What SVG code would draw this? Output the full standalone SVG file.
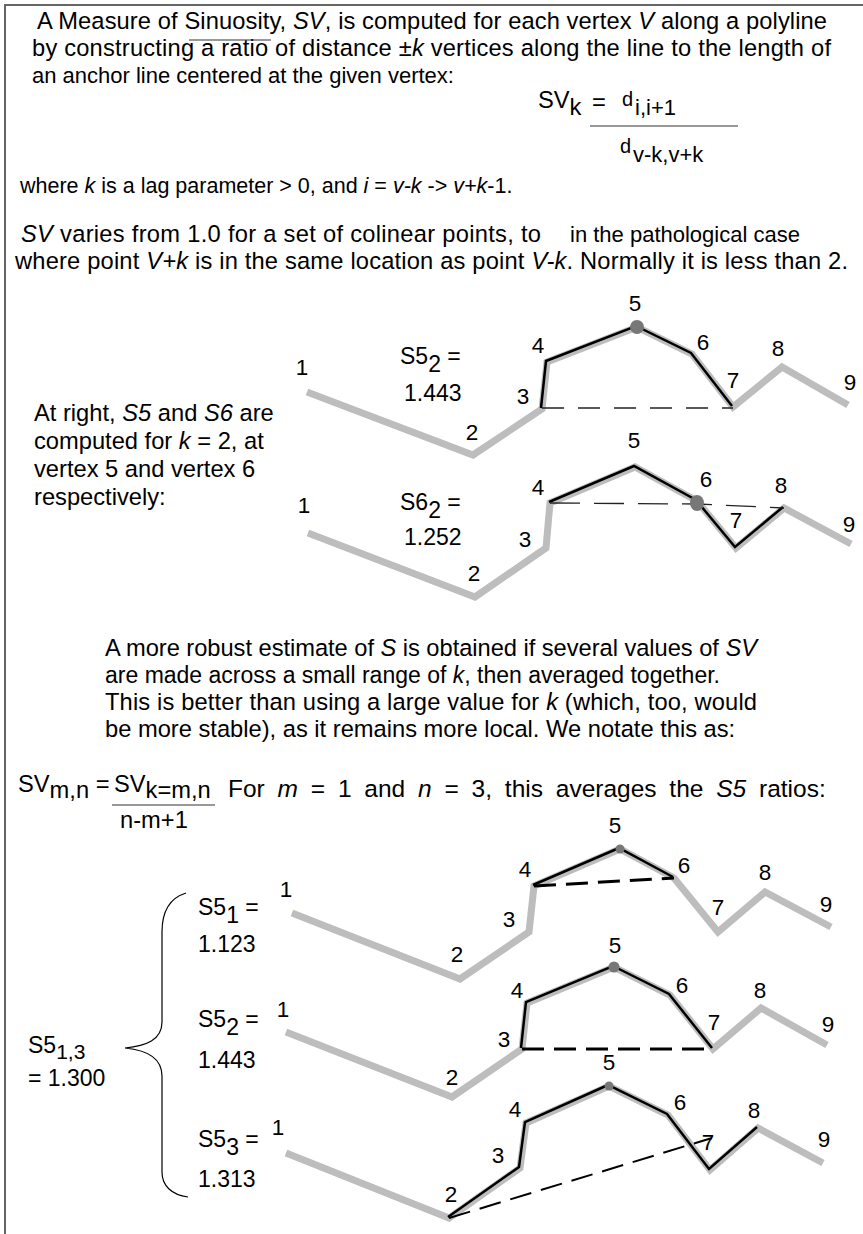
<svg xmlns="http://www.w3.org/2000/svg" width="863" height="1234" viewBox="0 0 863 1234">
<style>
text{font-family:"Liberation Sans",Arial,sans-serif;fill:#000}
.b{font-size:23.7px}
.l{font-size:22.5px;text-anchor:middle}
.s{font-size:23px}
.i{font-style:italic}
.g{fill:none;stroke:#bdbdbd;stroke-width:7;stroke-linejoin:miter;stroke-linecap:butt}
.k{fill:none;stroke:#000;stroke-width:2.5;stroke-linejoin:miter}
.d{fill:none;stroke:#222;stroke-width:1.3;stroke-dasharray:22 14}
.D{fill:none;stroke:#000;stroke-width:3;stroke-dasharray:22 10}
.dot{fill:#777}
</style>
<rect width="863" height="1234" fill="#fff"/>
<path id="frame" d="M5,1234 V5 H863" fill="none" stroke="#666" stroke-width="2"/>
<g id="intro">
<text class="b" x="37" y="29" textLength="790" lengthAdjust="spacing">A Measure of Sinuosity, <tspan class="i">SV</tspan>, is computed for each vertex <tspan class="i">V</tspan> along a polyline</text>
<text class="b" x="32" y="56" textLength="799" lengthAdjust="spacing">by constructing a ratio of distance ±<tspan class="i">k</tspan> vertices along the line to the length of</text>
<text x="32" y="83" style="font-size:22px">an anchor line centered at the given vertex:</text>
<line x1="189" y1="40" x2="271" y2="40" stroke="#333" stroke-width="1.2"/>
</g>
<g id="formula1">
<text class="b" x="538" y="108">SV<tspan dy="7">k</tspan></text>
<text class="b" x="592" y="110">=</text>
<text x="622" y="106" style="font-size:20px">d</text>
<text x="635" y="115" style="font-size:22px">i,i+1</text>
<line x1="590" y1="126" x2="738" y2="126" stroke="#333" stroke-width="1.2"/>
<text x="620" y="153" style="font-size:20px">d</text>
<text x="633" y="162" style="font-size:22px">v-k,v+k</text>
</g>
<g id="lag">
<text x="20" y="193" style="font-size:21.5px">where <tspan class="i">k</tspan> is a lag parameter &gt; 0, and  <tspan class="i">i</tspan> = <tspan class="i">v-k</tspan> -&gt; <tspan class="i">v+k</tspan>-1.</text>
</g>
<g id="range">
<text class="b" x="21" y="242" textLength="520" lengthAdjust="spacing"><tspan class="i">SV</tspan> varies from 1.0 for a set of colinear points, to</text>
<text x="570" y="242" style="font-size:22px">in the pathological case</text>
<text class="b" x="15" y="269" textLength="833" lengthAdjust="spacing">where point <tspan class="i">V+k</tspan> is in the same location as point <tspan class="i">V-k</tspan>. Normally it is less than 2.</text>
</g>
<g id="atright">
<text class="b" x="34" y="421">At right, <tspan class="i">S5</tspan> and <tspan class="i">S6</tspan> are</text>
<text class="b" x="34" y="449">computed for <tspan class="i">k</tspan> = 2, at</text>
<text class="b" x="34" y="477">vertex 5 and vertex 6</text>
<text class="b" x="34" y="505">respectively:</text>
</g>
<g id="robust">
<text class="b" x="105" y="656" textLength="652" lengthAdjust="spacing">A more robust estimate of <tspan class="i">S</tspan> is obtained if several values of <tspan class="i">SV</tspan></text>
<text x="105" y="683" style="font-size:23px">are made across a small range of <tspan class="i">k</tspan>, then averaged together.</text>
<text class="b" x="105" y="710" textLength="652" lengthAdjust="spacing">This is better than using a large value for <tspan class="i">k</tspan> (which, too, would</text>
<text class="b" x="105" y="737">be more stable), as it remains more local. We notate this as:</text>
</g>
<g id="formula2">
<text class="b" x="18" y="792">SV<tspan dy="6">m,n</tspan><tspan dy="-6"> =</tspan></text>
<text class="b" x="114" y="792">SV<tspan dy="6">k=m,n</tspan></text>
<text x="228" y="797" style="font-size:24.5px;word-spacing:6px">For <tspan class="i">m</tspan> = 1 and <tspan class="i">n</tspan> = 3, this averages the <tspan class="i">S5</tspan> ratios:</text>
<line x1="112" y1="805" x2="215" y2="805" stroke="#333" stroke-width="1.2"/>
<text class="b" x="120" y="828">n-m+1</text>
</g>
<g id="connectors">
<polyline class="g" points="307,392 473,455 542,409 547,362 637,327 692,354 733,407 782,367 848,405"/>
<polyline class="k" points="541,408 546,361 636,326 691,353 732,406"/>
<line class="d" x1="542" y1="408" x2="733" y2="408"/>
<polyline class="g" points="308,533 475,597 546,548 550,503 635,467 697,501 736,548 784,508 851,544"/>
<polyline class="k" points="549,502 634,466 696,500 735,547 783,507"/>
<polyline class="d" style="stroke-dasharray:30 14" points="550,503 697,504 784,508"/>
<polyline class="g" points="292,913 460,979 529,932 534,886 620,849 674,878 718,932 765,892 831,927"/>
<polyline class="k" points="533,885 619,848 673,877"/>
<line class="D" x1="534" y1="886" x2="674" y2="878"/>
<polyline class="g" points="286,1032 452,1097 522,1049 527,1003 614,967 670,995 713,1049 761,1008 827,1045"/>
<polyline class="k" points="521,1048 526,1002 613,966 669,994 712,1048"/>
<line class="D" x1="522" y1="1049" x2="713" y2="1049"/>
<polyline class="g" points="286,1153 449,1218 520,1168 526,1123 609,1086 668,1115 710,1170 758,1128 823,1163"/>
<polyline class="k" points="448,1217 519,1167 525,1122 608,1085 667,1114 709,1169 757,1127"/>
<line class="D" style="stroke-width:2" x1="449" y1="1218" x2="712" y2="1138"/>
<path d="M186,893 C170,898 162,912 162,932 L162,1022 C162,1040 146,1046 125,1048 C146,1050 162,1058 162,1076 L162,1172 C162,1186 172,1195 188,1197" fill="none" stroke="#000" stroke-width="1.2"/>
</g>
<g id="diagram1">
<circle class="dot" cx="637" cy="327" r="7"/>
<text class="l" x="302" y="375">1</text><text class="l" x="472" y="440">2</text><text class="l" x="523" y="404">3</text>
<text class="l" x="538" y="353">4</text><text class="l" x="635" y="311">5</text><text class="l" x="703" y="350">6</text>
<text class="l" x="733" y="388">7</text><text class="l" x="778" y="356">8</text><text class="l" x="850" y="390">9</text>
<text class="s" x="400" y="364">S5<tspan dy="8">2</tspan><tspan dy="-8"> =</tspan></text>
<text class="s" x="404" y="401">1.443</text>
</g>
<g id="diagram2">
<ellipse class="dot" cx="697" cy="503" rx="7" ry="8"/>
<text class="l" x="304" y="513">1</text><text class="l" x="474" y="581">2</text><text class="l" x="525" y="547">3</text>
<text class="l" x="538" y="495">4</text><text class="l" x="634" y="448">5</text><text class="l" x="706" y="487">6</text>
<text class="l" x="736" y="528">7</text><text class="l" x="781" y="493">8</text><text class="l" x="849" y="532">9</text>
<text class="s" x="400" y="510">S6<tspan dy="8">2</tspan><tspan dy="-8"> =</tspan></text>
<text class="s" x="404" y="545">1.252</text>
</g>
<g id="diagram3">
<circle class="dot" cx="620" cy="849" r="4.5"/>
<text class="l" x="286" y="897">1</text><text class="l" x="457" y="962">2</text><text class="l" x="509" y="927">3</text>
<text class="l" x="525" y="877">4</text><text class="l" x="615" y="833">5</text><text class="l" x="684" y="873">6</text>
<text class="l" x="718" y="915">7</text><text class="l" x="765" y="880">8</text><text class="l" x="826" y="912">9</text>
<text class="s" x="198" y="915">S5<tspan dy="8">1</tspan><tspan dy="-8"> =</tspan></text>
<text class="s" x="198" y="952">1.123</text>
</g>
<g id="diagram4">
<circle class="dot" cx="614" cy="967" r="5.5"/>
<text class="l" x="283" y="1017">1</text><text class="l" x="452" y="1085">2</text><text class="l" x="504" y="1047">3</text>
<text class="l" x="517" y="998">4</text><text class="l" x="615" y="953">5</text><text class="l" x="682" y="993">6</text>
<text class="l" x="714" y="1030">7</text><text class="l" x="760" y="998">8</text><text class="l" x="828" y="1032">9</text>
<text class="s" x="198" y="1027">S5<tspan dy="8">2</tspan><tspan dy="-8"> =</tspan></text>
<text class="s" x="198" y="1068">1.443</text>
</g>
<g id="diagram5">
<circle class="dot" cx="609" cy="1086" r="4.5"/>
<text class="l" x="278" y="1135">1</text><text class="l" x="451" y="1202">2</text><text class="l" x="498" y="1163">3</text>
<text class="l" x="515" y="1117">4</text><text class="l" x="609" y="1070">5</text><text class="l" x="680" y="1110">6</text>
<text class="l" x="708" y="1150">7</text><text class="l" x="754" y="1118">8</text><text class="l" x="824" y="1147">9</text>
<text class="s" x="198" y="1147">S5<tspan dy="8">3</tspan><tspan dy="-8"> =</tspan></text>
<text class="s" x="198" y="1187">1.313</text>
</g>
<g id="average">
<text class="s" x="28" y="1053">S5<tspan dy="6" style="font-size:21px">1,3</tspan></text>
<text class="s" x="28" y="1086">= 1.300</text>
</g>
</svg>
